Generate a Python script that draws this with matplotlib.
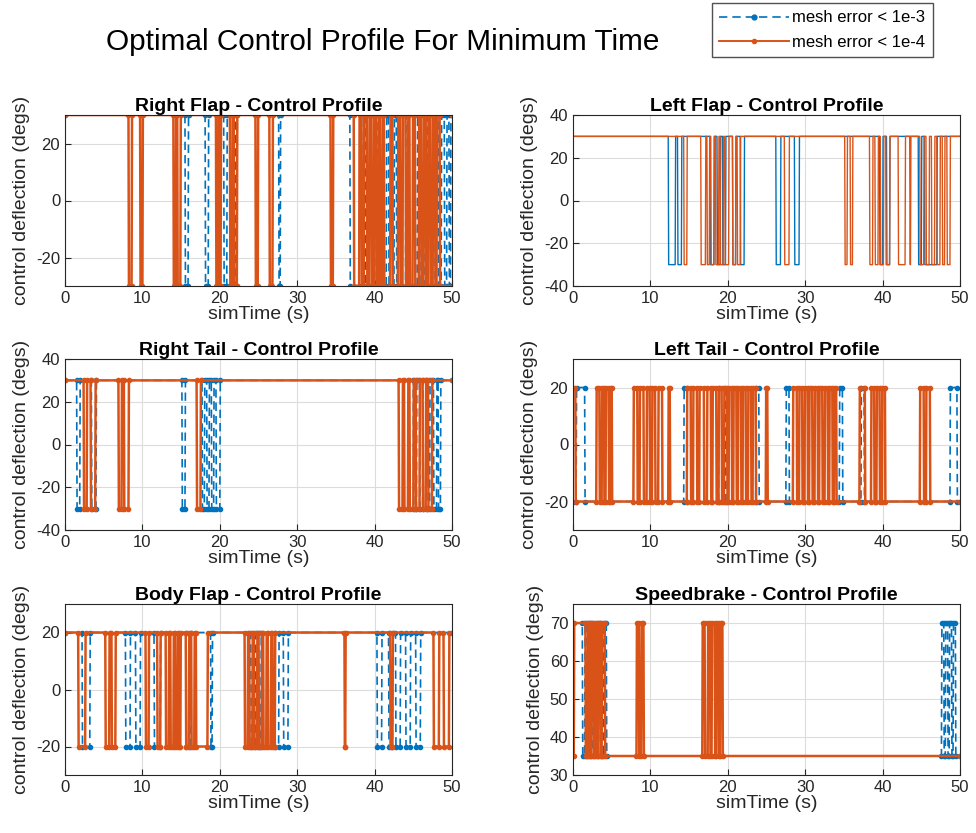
import matplotlib
matplotlib.use("Agg")
import matplotlib.pyplot as plt
from matplotlib.lines import Line2D

plt.rcParams['font.family'] = ['Liberation Sans', 'DejaVu Sans']
plt.rcParams['axes.unicode_minus'] = False

BLUE = "#0072BD"
ORANGE = "#D95319"

# each profile: (base level, switched level, pulses as (start, end) in seconds)
titles = ["Right Flap - Control Profile", "Left Flap - Control Profile",
          "Right Tail - Control Profile", "Left Tail - Control Profile",
          "Body Flap - Control Profile", "Speedbrake - Control Profile"]

ylims = [(-30, 30), (-40, 40), (-40, 40), (-30, 30), (-30, 30), (30, 75)]
yticks = [[-20, 0, 20], [-40, -20, 0, 20, 40], [-40, -20, 0, 20, 40],
          [-20, 0, 20], [-20, 0, 20], [30, 40, 50, 60, 70]]
show_markers = [True, False, True, True, True, True]

# mesh error < 1e-3
blue_levels = [(30, -30), (30, -30), (30, -30), (-20, 20), (20, -20), (35, 70)]
blue_pulses = [
    [(15.5, 15.9), (18.1, 18.5), (20.5, 20.9), (22.0, 22.2), (27.6, 27.8),
     (36.8, 38.5), (38.8, 40.0), (40.3, 41.5), (41.8, 42.5), (42.8, 44.0),
     (44.3, 45.5), (45.8, 46.5), (46.8, 47.8), (48.2, 48.6), (49.0, 49.3),
     (49.6, 49.8)],
    [(12.3, 13.2), (13.5, 14.0), (17.7, 18.2), (18.6, 19.0), (19.3, 19.7),
     (20.6, 21.0), (21.6, 22.1), (26.2, 26.8), (28.6, 29.2), (39.6, 40.0),
     (40.5, 40.9), (44.6, 45.0), (45.4, 47.0)],
    [(1.5, 1.9), (3.4, 4.0), (15.1, 15.5), (17.7, 18.0), (18.3, 18.6),
     (18.9, 19.2), (19.5, 20.0), (45.0, 45.4), (45.8, 46.2), (46.7, 47.1),
     (47.6, 48.0), (48.2, 48.5)],
    [(0.4, 1.5), (14.3, 14.7), (18.8, 19.7), (23.6, 24.0), (27.5, 27.9),
     (34.4, 34.8), (37.2, 37.6), (48.7, 49.6)],
    [(2.2, 3.2), (7.8, 8.4), (9.1, 9.7), (11.5, 12.3), (15.6, 16.2),
     (18.8, 19.0), (24.0, 24.6), (25.0, 25.3), (27.1, 27.6), (28.2, 28.8),
     (40.3, 40.9), (41.8, 42.3), (42.7, 43.3), (44.0, 44.6), (45.3, 45.9)],
    [(-1.0, 1.2), (1.5, 1.8), (2.2, 2.5), (3.2, 3.5), (3.9, 4.3),
     (47.6, 47.9), (48.1, 48.4), (48.6, 48.9), (49.1, 49.4)],
]

# mesh error < 1e-4
orange_levels = [(30, -30), (30, -30), (30, -30), (-20, 20), (20, -20), (35, 70)]
orange_pulses = [
    [(8.2, 8.6), (9.7, 10.0), (14.0, 14.3), (14.5, 14.9), (19.5, 19.8),
     (19.9, 20.1), (21.3, 21.6), (21.8, 22.2), (24.6, 24.9), (26.4, 26.8),
     (34.3, 34.6), (37.3, 38.0), (38.3, 38.6), (39.0, 39.3), (39.6, 39.9),
     (40.2, 40.5), (40.7, 41.0), (41.2, 42.0), (42.3, 43.0), (43.3, 43.6),
     (44.0, 44.3), (44.5, 44.9), (45.2, 45.7), (46.0, 46.3), (46.6, 46.9),
     (47.2, 47.5), (47.8, 48.0), (48.4, 51.0)],
    [(14.3, 14.7), (16.5, 17.1), (17.3, 17.6), (17.8, 18.2), (18.4, 18.8),
     (19.0, 19.4), (19.6, 20.1), (20.6, 21.0), (21.2, 21.6), (27.3, 27.9),
     (35.1, 35.4), (35.8, 36.1), (38.3, 38.7), (39.0, 39.4), (39.7, 40.1),
     (40.4, 40.9), (42.0, 42.9), (43.5, 43.6), (44.8, 45.3), (45.6, 46.0),
     (46.3, 46.7), (47.0, 47.4), (47.7, 48.0), (48.3, 48.7)],
    [(2.4, 2.8), (3.3, 3.9), (6.9, 7.3), (7.6, 8.2), (17.0, 17.5),
     (43.1, 43.6), (43.8, 44.3), (44.5, 45.0), (45.3, 45.8), (46.2, 46.6),
     (46.9, 47.4)],
    [(-1.0, 0.3), (3.0, 3.4), (3.7, 4.0), (4.2, 4.6), (4.8, 5.0), (7.8, 8.3),
     (8.6, 9.1), (9.5, 9.9), (10.2, 10.6), (11.0, 11.5), (12.3, 12.5),
     (14.7, 15.2), (15.5, 16.0), (16.3, 16.9), (17.3, 17.8), (18.0, 18.5),
     (18.8, 19.2), (19.5, 19.9), (20.1, 20.5), (20.7, 21.1), (21.3, 21.7),
     (21.9, 22.3), (22.6, 23.0), (23.2, 23.6), (24.9, 25.1), (28.4, 28.9),
     (29.2, 29.6), (29.9, 30.3), (30.5, 30.9), (31.2, 31.6), (31.8, 32.2),
     (32.5, 32.9), (33.1, 33.5), (33.7, 34.0), (37.0, 37.7), (38.5, 38.9),
     (39.2, 39.6), (39.9, 40.3), (44.8, 45.3), (45.6, 46.1)],
    [(1.7, 2.6), (5.2, 5.7), (6.0, 6.5), (10.4, 10.8), (11.9, 12.3),
     (13.0, 13.4), (13.6, 14.0), (14.2, 14.5), (14.7, 14.9), (15.6, 16.0),
     (16.3, 16.7), (16.9, 18.4), (23.2, 23.6), (23.8, 24.2), (24.4, 24.8),
     (25.0, 25.4), (25.6, 26.0), (26.2, 26.6), (26.8, 27.1), (36.1, 36.2),
     (42.0, 42.3), (47.6, 48.3), (48.9, 49.6)],
    [(0.1, 1.6), (1.9, 2.1), (2.3, 2.6), (2.8, 3.0), (3.2, 3.5), (3.7, 4.1),
     (8.2, 8.5), (8.8, 9.1), (16.7, 17.0), (17.4, 17.7), (17.9, 18.3),
     (18.5, 18.8), (19.0, 19.3)],
]


def step_series(levels, pulses, t_end=50.0, dt=0.06):
    base, alt = levels
    t, y = [], []
    if pulses and pulses[0][0] <= 0:
        t += [0.0]
        y += [alt]
        b = pulses[0][1]
        t += [b, b + dt]
        y += [alt, base]
        pulses = pulses[1:]
    else:
        t += [0.0]
        y += [base]
    for a, b in pulses:
        t += [a, a + dt, b, b + dt]
        y += [base, alt, alt, base]
    t.append(t_end)
    y.append(y[-1])
    return t, y


fig = plt.figure(figsize=(9.76, 8.33), dpi=100)

lefts = [65 / 976, 573 / 976]
bottoms = [(833 - 286) / 833, (833 - 530) / 833, (833 - 775) / 833]
w = 387 / 976
h = 171 / 833

for i in range(6):
    ax = fig.add_axes([lefts[i % 2], bottoms[i // 2], w, h])
    mk = "." if show_markers[i] else None
    lw_o = 1.8 if show_markers[i] else 1.0
    lw_b = 1.2 if show_markers[i] else 1.0
    bt, by = step_series(blue_levels[i], blue_pulses[i])
    ot, oy = step_series(orange_levels[i], orange_pulses[i])
    if show_markers[i]:
        ax.plot(bt, by, color=BLUE, lw=lw_b, ls=(0, (5, 3)), marker=mk, ms=6)
    else:
        ax.plot(bt, by, color=BLUE, lw=lw_b, ls="-")
    ax.plot(ot, oy, color=ORANGE, lw=lw_o, ls="-", marker=mk, ms=6)

    ax.set_xlim(0, 50)
    ax.set_ylim(*ylims[i])
    ax.set_xticks([0, 10, 20, 30, 40, 50])
    ax.set_yticks(yticks[i])
    ax.grid(True, color="#dcdcdc", lw=0.8)
    ax.set_axisbelow(True)
    ax.tick_params(direction="in", labelsize=12, colors="#262626", length=4)
    for s in ax.spines.values():
        s.set_color("#262626")
        s.set_linewidth(0.8)
    ax.set_title(titles[i], fontsize=14, fontweight="bold", pad=3)
    ax.set_xlabel("simTime (s)", fontsize=14, labelpad=0, color="#262626")
    ax.set_ylabel("control deflection (degs)", fontsize=14, labelpad=4, color="#262626")

fig.text(383 / 976, 1 - 42 / 833, "Optimal Control Profile For Minimum Time",
         ha="center", va="center", fontsize=21.4)

handles = [Line2D([], [], color=BLUE, lw=1.2, ls=(0, (5, 3)), marker=".", ms=7),
           Line2D([], [], color=ORANGE, lw=1.4, ls="-", marker=".", ms=6)]
fig.legend(handles, ["mesh error < 1e-3", "mesh error < 1e-4"],
           loc="upper right", bbox_to_anchor=(933 / 976, 1 - 3 / 833),
           fontsize=12, frameon=True, fancybox=False, edgecolor="#262626",
           handlelength=4.2, borderpad=0.45, labelspacing=0.55, handletextpad=0.2,
           borderaxespad=0)

fig.savefig("out.png", dpi=100)
